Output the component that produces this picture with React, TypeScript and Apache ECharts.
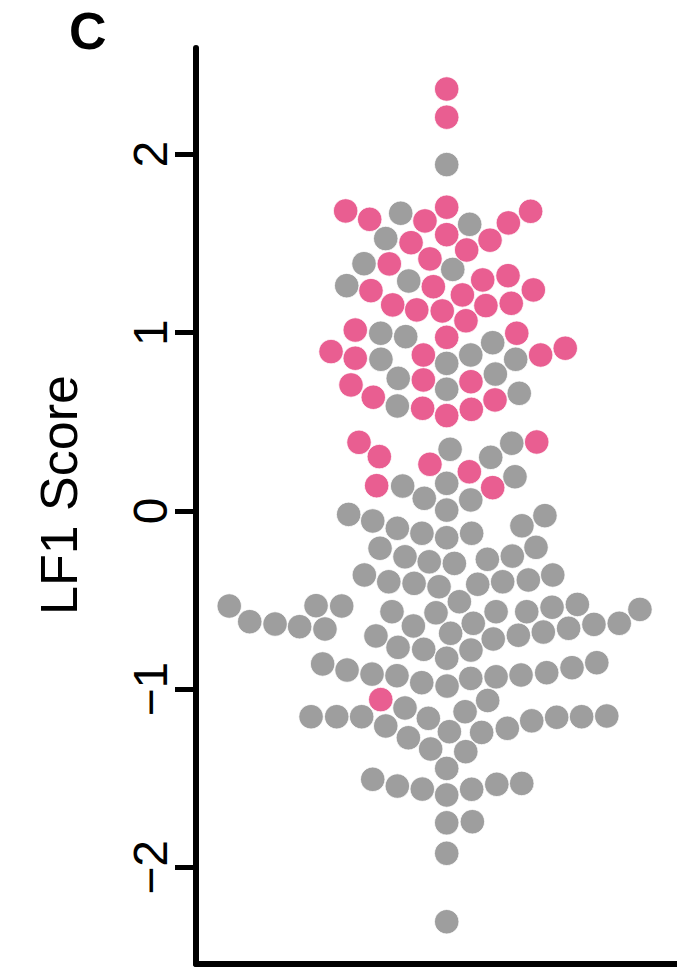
import React, { useEffect, useRef } from "react";
import * as echarts from "echarts";

// Tick values on the LF1 score axis
const yTicks = [-2, -1, 0, 1, 2];

// Pink group: swarm offset (x) and LF1 score (y)
const pinkX = [
  0, 0, -0.567, -0.432, -0.122, 0, 0.346, 0.471, -0.2, 0, 0.112, 0.243, -0.322, -0.094,
  -0.425, -0.075, 0.202, 0.344, 0.486, -0.303, -0.168, -0.025, 0.088, 0.22, 0.362, 0.108,
  -0.513, 0, 0.393, -0.649, -0.513, -0.131, 0.527, 0.665, -0.131, 0.136, -0.537, -0.412,
  -0.135, 0, 0.138, 0.271, -0.492, -0.378, -0.094, 0.127, 0.505, -0.393, 0.258, -0.37,
];
const pinkY = [
  2.366, 2.208, 1.682, 1.635, 1.626, 1.703, 1.615, 1.68, 1.504, 1.549, 1.463, 1.518, 1.385, 1.413,
  1.235, 1.257, 1.295, 1.319, 1.239, 1.155, 1.127, 1.121, 1.211, 1.151, 1.164, 1.066,
  1.014, 0.973, 0.996, 0.893, 0.856, 0.874, 0.874, 0.912, 0.734, 0.724, 0.706, 0.637,
  0.575, 0.534, 0.569, 0.622, 0.384, 0.304, 0.261, 0.219, 0.386, 0.141, 0.13, -1.059,
];

// Gray group: swarm offset (x) and LF1 score (y)
const grayX = [
  0, -0.258, 0.129, -0.342, -0.464, 0.034, -0.561, -0.213, -0.37, -0.23, 0.258, -0.369, 0, 0.135,
  0.387, -0.272, 0.273, 0, -0.277, 0.407, 0.019, 0.247, 0.365, -0.247, 0, 0.383, -0.126, 0.135,
  0, -0.55, -0.415, -0.277, -0.139, 0, 0.14, 0.422, 0.551, -0.374, -0.234, -0.098, 0.043, 0.228,
  0.368, 0.501, -0.462, -0.325, -0.183, -0.043, 0.174, 0.314, 0.458, 0.595, -1.22, -1.105, -0.963,
  -0.825, -0.733, -0.589, -0.683, -0.307, -0.397, -0.187, -0.06, 0.071, -0.273, -0.129, 0.022,
  0.149, 0.277, 0.449, 0.591, 0.733, 1.084, 0.261, 0.402, 0.542, 0.684, 0.826, 0.968, 0, 0.136,
  -0.696, -0.559, -0.419, -0.279, -0.14, 0.002, 0.135, 0.277, 0.417, 0.561, 0.703, 0.842, -0.234,
  0.23, 0.103, -0.761, -0.617, -0.477, -0.342, -0.103, -0.215, 0.015, 0.196, 0.34, 0.477, 0.617,
  0.757, 0.898, -0.09, 0.107, 0, -0.415, -0.277, -0.137, 0, 0.14, 0.281, 0.421, 0, 0.144, 0, 0,
];
const grayY = [
  1.942, 1.669, 1.607, 1.527, 1.386, 1.354, 1.263, 1.289, 0.996, 0.977, 0.943, 0.85, 0.827, 0.874,
  0.85, 0.743, 0.767, 0.682, 0.588, 0.659, 0.345, 0.3, 0.379, 0.139, 0.154, 0.191, 0.07, 0.061,
  0.004, -0.02, -0.057, -0.098, -0.126, -0.151, -0.126, -0.084, -0.027, -0.21, -0.258, -0.286,
  -0.295, -0.272, -0.254, -0.205, -0.36, -0.398, -0.407, -0.426, -0.412, -0.398, -0.388, -0.36,
  -0.534, -0.622, -0.635, -0.65, -0.532, -0.534, -0.663, -0.566, -0.702, -0.646, -0.572, -0.51,
  -0.766, -0.777, -0.687, -0.631, -0.566, -0.566, -0.541, -0.525, -0.553, -0.719, -0.698, -0.68,
  -0.659, -0.637, -0.631, -0.827, -0.781, -0.859, -0.893, -0.916, -0.925, -0.964, -0.983, -0.94,
  -0.931, -0.921, -0.908, -0.88, -0.852, -1.106, -1.064, -1.127, -1.155, -1.155, -1.155, -1.207,
  -1.164, -1.273, -1.239, -1.243, -1.22, -1.178, -1.158, -1.155, -1.151, -1.336, -1.351, -1.445,
  -1.506, -1.544, -1.561, -1.594, -1.562, -1.534, -1.529, -1.75, -1.744, -1.921, -2.305,
];

const zip = (xs: number[], ys: number[]) => xs.map((x, i) => [x, ys[i]]);

export default function App() {
  const ref = useRef<HTMLDivElement>(null);

  useEffect(() => {
    if (!ref.current) return;
    const chart = echarts.init(ref.current, null, { renderer: "svg" });
    const font = '"Liberation Sans", Arial, Helvetica, sans-serif';
    chart.setOption({
      animation: false,
      backgroundColor: "#ffffff",
      grid: { left: 196, right: 0, top: 48, bottom: 3 },
      xAxis: {
        type: "value",
        min: -1.4065,
        max: 1.292,
        axisLine: { show: true, onZero: false, lineStyle: { color: "#000", width: 6 } },
        axisTick: { show: false },
        axisLabel: { show: false },
        splitLine: { show: false },
      },
      yAxis: {
        type: "value",
        min: -2.542,
        max: 2.596,
        axisLine: { show: true, onZero: false, lineStyle: { color: "#000", width: 6 } },
        axisTick: {
          show: true,
          length: 21,
          customValues: yTicks,
          lineStyle: { color: "#000", width: 5 },
        },
        axisLabel: {
          show: true,
          customValues: yTicks,
          rotate: 90,
          margin: 22,
          fontSize: 48,
          fontFamily: font,
          color: "#000",
          formatter: (v: number) => (v < 0 ? "\u2212" + Math.abs(v) : String(v)),
        },
        splitLine: { show: false },
      },
      graphic: [
        {
          type: "text",
          x: 69,
          y: 31,
          style: {
            text: "C",
            font: `bold 52px ${font}`,
            fill: "#000",
            textAlign: "left",
            textVerticalAlign: "middle",
          },
        },
        {
          type: "text",
          x: 59,
          y: 495,
          rotation: Math.PI / 2,
          style: {
            text: "LF1 Score",
            font: `52px ${font}`,
            fill: "#000",
            textAlign: "center",
            textVerticalAlign: "middle",
          },
        },
      ],
      series: [
        {
          type: "scatter",
          data: zip(grayX, grayY),
          symbol: "circle",
          symbolSize: 24.5,
          itemStyle: { color: "#9e9e9e", borderColor: "#ffffff", borderWidth: 0.8, opacity: 1 },
          emphasis: { disabled: true },
        },
        {
          type: "scatter",
          data: zip(pinkX, pinkY),
          symbol: "circle",
          symbolSize: 24.5,
          itemStyle: { color: "#e95e91", borderColor: "#ffffff", borderWidth: 0.8, opacity: 1 },
          emphasis: { disabled: true },
        },
      ],
    });
    return () => chart.dispose();
  }, []);

  return (
    <div
      ref={ref}
      style={{ position: "fixed", left: 0, top: 0, width: 677, height: 967, background: "#fff" }}
    />
  );
}
